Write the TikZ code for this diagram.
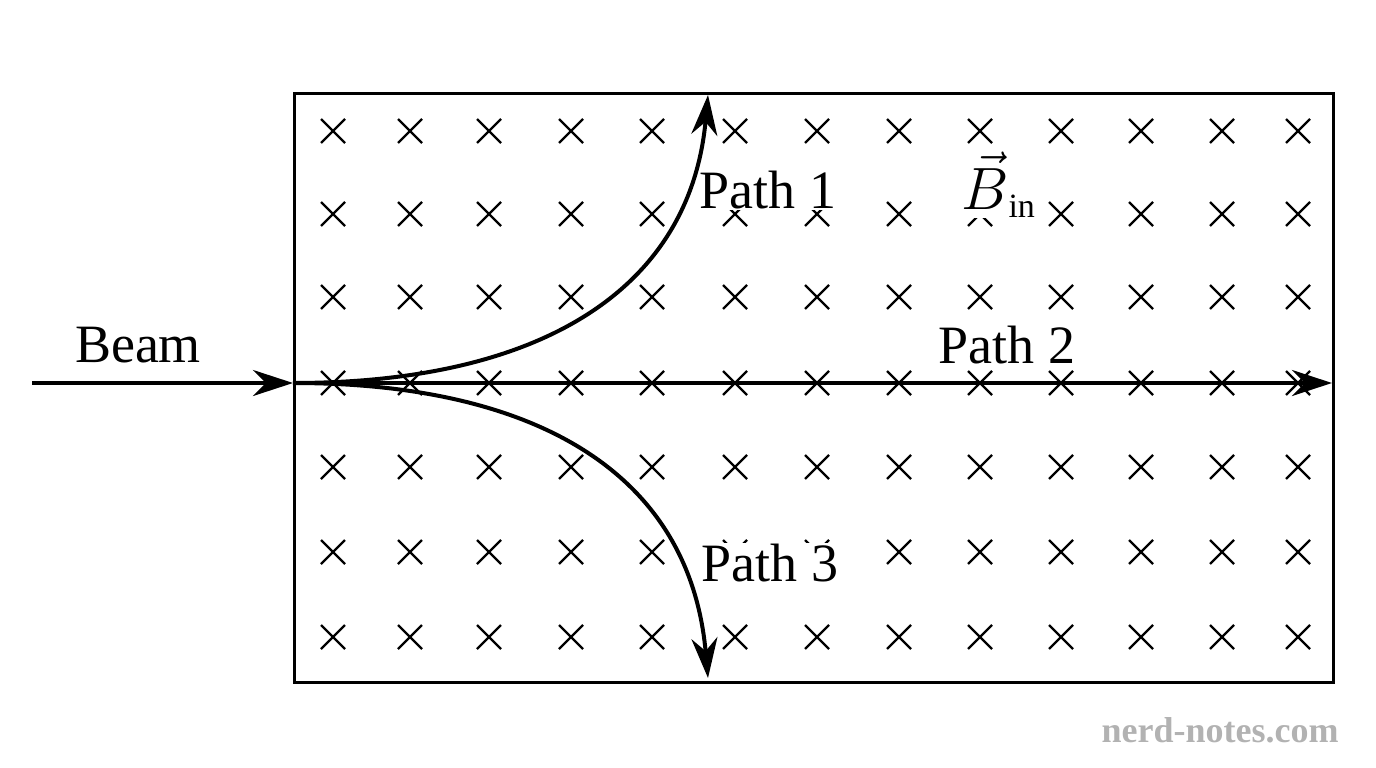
\documentclass[tikz,border=0pt]{standalone}
\usepackage{fontspec}
\setmainfont{Liberation Serif}
\usetikzlibrary{arrows.meta}
\begin{document}
\begin{tikzpicture}[x=1pt,y=-1pt,
  cross/.style={line width=2.2pt},
  path/.style={line width=4pt,-{Stealth[length=40pt,width=26pt]}},
  lab/.style={font=\fontsize{54}{56}\selectfont,fill=white,inner sep=1pt}]
\useasboundingbox (0,0) rectangle (1376,768);
\node[draw,line width=2.5pt,minimum width=1039pt,minimum height=589pt,anchor=north west,inner sep=0] (box) at (293,92) {};
\foreach \x in {333,410,489,571,652,735,817,899,980,1061,1141,1222,1298}
  \foreach \y in {131,214,297,383,467,552,637}
    \draw[cross] (\x-12,\y-12) -- (\x+12,\y+12) (\x-12,\y+12) -- (\x+12,\y-12);
\coordinate (s) at (32,383);
\coordinate (e) at (293,383);
\coordinate (t1) at (708,95);
\coordinate (t2) at (1332,383);
\coordinate (t3) at (708,678);
\node[lab] (l1) at (768,190) {Path 1};
\node[lab] (l2) at (1007,345) {Path 2};
\node[lab] (l3) at (770,563) {Path 3};
\node[lab] (bm) at (138,345) {Beam};
\node[lab,inner sep=0pt] (B) at (998,185) {\scalebox{2.4}{$\vec{B}$}\raisebox{-8pt}{\fontsize{34}{34}\selectfont in}};
\draw[path] (s) -- (e);
\draw[path] (e) -- (t2);
\draw[path] (e) .. controls (540,383) and (690,290) .. (t1);
\draw[path] (e) .. controls (540,383) and (690,476) .. (t3);
\node[text=gray!60,font=\fontsize{36}{38}\selectfont\bfseries] (wm) at (1220,730) {nerd-notes.com};
\end{tikzpicture}
\end{document}
